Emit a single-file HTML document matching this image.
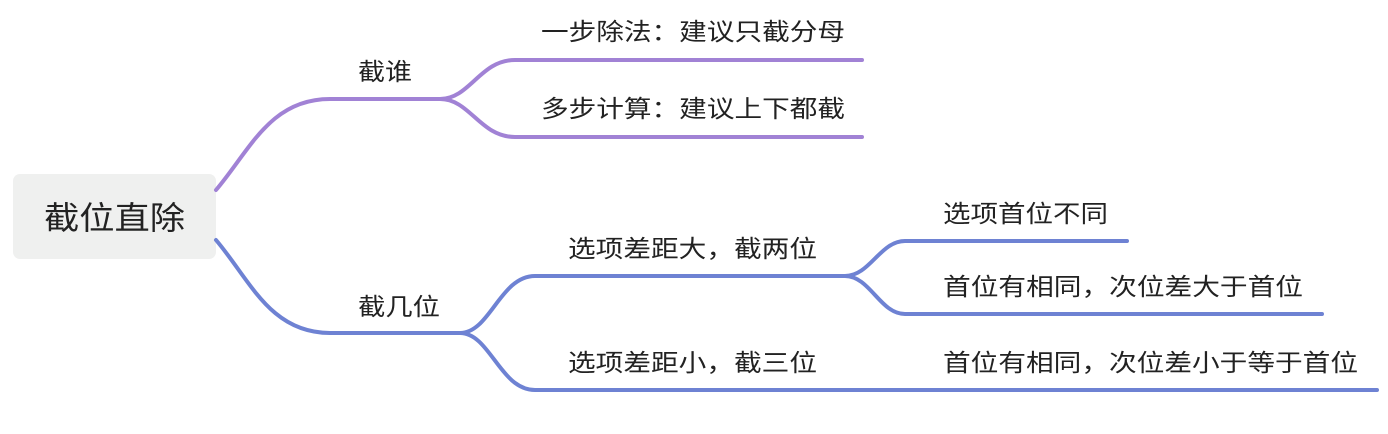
<!DOCTYPE html>
<html><head><meta charset="utf-8"><style>body{margin:0;background:#fff}svg{display:block}text{font-family:"Liberation Sans","Noto Sans CJK SC",sans-serif;fill:#222}</style></head>
<body>
<svg width="1388" height="434" viewBox="0 0 1388 434">
<rect x="13" y="174" width="203" height="85" rx="7" fill="#eff0ef"/>
<text x="44" y="229" font-size="32" textLength="141" lengthAdjust="spacingAndGlyphs">截位直除</text>
<g fill="none" stroke-width="4" stroke-linecap="round">
<g stroke="#a182d5">
<path d="M216,190 C250,150 270,99 330,99 L440,99"/>
<path d="M440,99 C470,99 480,60 515,60 L862,60"/>
<path d="M440,99 C470,99 480,137 515,137 L862,137"/>
</g>
<g stroke="#6e82d3">
<path d="M216,240 C250,280 270,333 330,333 L460,333"/>
<path d="M460,333 C490,333 500,276 535,276 L845,276"/>
<path d="M460,333 C490,333 500,390 535,390 L1377,390"/>
<path d="M845,276 C870,276 880,241 905,241 L1127,241"/>
<path d="M845,276 C870,276 880,314 905,314 L1322,314"/>
</g>
</g>
<g font-size="24">
<text x="358" y="80" textLength="54" lengthAdjust="spacingAndGlyphs">截谁</text>
<text x="541" y="40" textLength="304" lengthAdjust="spacingAndGlyphs">一步除法：建议只截分母</text>
<text x="541" y="117" textLength="304" lengthAdjust="spacingAndGlyphs">多步计算：建议上下都截</text>
<text x="358" y="315" textLength="82" lengthAdjust="spacingAndGlyphs">截几位</text>
<text x="568" y="257" textLength="249" lengthAdjust="spacingAndGlyphs">选项差距大，截两位</text>
<text x="568" y="371" textLength="249" lengthAdjust="spacingAndGlyphs">选项差距小，截三位</text>
<text x="943" y="222" textLength="165" lengthAdjust="spacingAndGlyphs">选项首位不同</text>
<text x="943" y="295" textLength="360" lengthAdjust="spacingAndGlyphs">首位有相同，次位差大于首位</text>
<text x="943" y="371" textLength="415" lengthAdjust="spacingAndGlyphs">首位有相同，次位差小于等于首位</text>
</g>
</svg>
</body></html>
